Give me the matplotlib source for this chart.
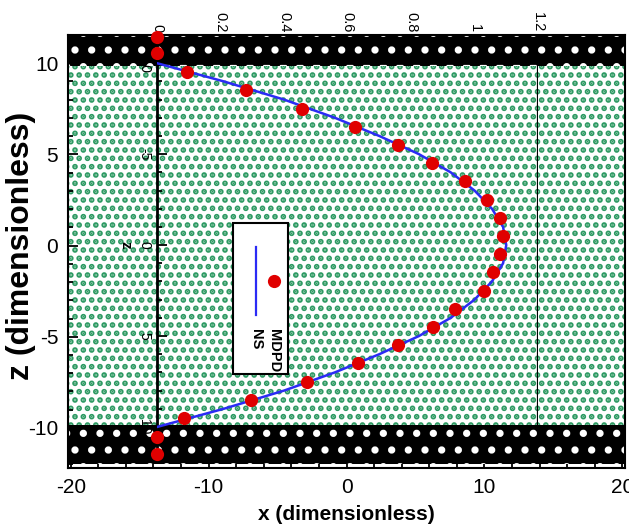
import matplotlib
matplotlib.use("Agg")
import matplotlib.pyplot as plt
from matplotlib.patches import Rectangle
from matplotlib.ticker import MultipleLocator

# MDPD velocity samples (inner plot is rotated: z runs down, u runs right)
z_mdpd = [-11.45, -10.55, -9.5, -8.5, -7.5, -6.5, -5.5, -4.5, -3.5, -2.5, -1.5, -0.5,
          0.5, 1.5, 2.5, 3.5, 4.5, 5.5, 6.5, 7.5, 8.5, 9.5, 10.55, 11.5]
u_mdpd = [0.0, 0.0, 0.095, 0.28, 0.457, 0.624, 0.759, 0.866, 0.970, 1.039, 1.080, 1.090,
          1.080, 1.058, 1.030, 0.939, 0.869, 0.759, 0.633, 0.473, 0.296, 0.085, 0.0, 0.0]

# Navier-Stokes profile
z_ns = [-10, -9, -8, -7, -6, -5, -4, -3, -2, -1, 0, 1, 2, 3, 4, 5, 6, 7, 8, 9, 10]
u_ns = [0.0, 0.21, 0.40, 0.56, 0.70, 0.825, 0.925, 1.00, 1.055, 1.09, 1.10,
        1.09, 1.055, 1.00, 0.925, 0.825, 0.70, 0.56, 0.40, 0.21, 0.0]

u_ticks = [0, 0.2, 0.4, 0.6, 0.8, 1.0, 1.2]
u_ticklabels = ["0", "0.2", "0.4", "0.6", "0.8", "1", "1.2"]
z_ticks = [-10, -5, 0, 5, 10]

plt.rcParams["font.family"] = ["Liberation Sans", "DejaVu Sans"]
plt.rcParams["axes.unicode_minus"] = False
plt.rcParams["hatch.linewidth"] = 2.8

fig = plt.figure(figsize=(6.29, 5.29), dpi=100)
W, H = 629, 529

# main axes: particle snapshot (fluid dots + wall particles as hatch texture)
ax = fig.add_axes([68 / W, 1 - 468 / H, (625 - 68) / W, (468 - 35) / H])
ax.set_xlim(-20.2, 20.2)
ax.set_ylim(-12.2, 11.55)

fluid = Rectangle((-20.2, -10), 40.4, 20, facecolor="white", edgecolor="#2e9a63",
                  linewidth=0, hatch="..", zorder=1)
ax.add_patch(fluid)
for y0, h in [(9.85, 1.75), (-12.0, 2.15)]:
    wall = Rectangle((-20.2, y0), 40.4, h, facecolor="black", edgecolor="white",
                     linewidth=0, hatch=".", zorder=2)
    ax.add_patch(wall)

ax.xaxis.set_major_locator(MultipleLocator(10))
ax.xaxis.set_minor_locator(MultipleLocator(2))
ax.yaxis.set_major_locator(MultipleLocator(5))
ax.yaxis.set_minor_locator(MultipleLocator(1))
ax.tick_params(which="both", direction="in", width=1.3, pad=7, labelsize=15)
ax.tick_params(which="major", length=7)
ax.tick_params(which="minor", length=3.5)
for sp in ax.spines.values():
    sp.set_linewidth(1.5)

ax.set_xlabel("x (dimensionless)", fontsize=15, fontweight="bold")
ax.xaxis.set_label_coords(0.5, -0.085)
ax.set_ylabel("z (dimensionless)", fontsize=23, fontweight="bold")
ax.yaxis.set_label_coords(-0.058, 0.513)

# inner axes: rotated velocity profile
ax2 = fig.add_axes([157 / W, 1 - 455 / H, (538 - 157) / W, (455 - 35) / H])
ax2.patch.set_visible(False)
ax2.set_xlim(0, 1.2)
ax2.set_ylim(11.54, -11.55)
for side in ["top", "right", "bottom"]:
    ax2.spines[side].set_visible(False)
ax2.spines["left"].set_linewidth(2)

ax2.hlines([-10, 10], 0, 1.2, color="black", linewidth=2, zorder=3)
ax2.vlines(1.2, -10, 10, color="black", linewidth=1.6, zorder=3)

ax2.plot(u_ns, z_ns, color="#2b2bf5", linewidth=1.8, zorder=4)
ax2.plot(u_mdpd, z_mdpd, "o", color="#e00000", markersize=9.5, markeredgewidth=0,
         zorder=5, clip_on=False)

ax2.xaxis.tick_top()
ax2.set_xticks(u_ticks)
ax2.set_xticklabels(u_ticklabels, rotation=-90, fontsize=10.5)
ax2.tick_params(axis="x", which="both", direction="in", length=0, pad=2)
ax2.set_yticks(z_ticks)
ax2.set_yticklabels([str(t) for t in z_ticks], rotation=-90, va="center", fontsize=10)
ax2.yaxis.set_minor_locator(MultipleLocator(1))
ax2.tick_params(axis="y", which="both", direction="in", width=1.3, pad=4)
ax2.tick_params(axis="y", which="major", length=7)
ax2.tick_params(axis="y", which="minor", length=3.5)
ax2.set_ylabel("z", rotation=-90, fontsize=11, fontweight="bold", va="center")
ax2.yaxis.set_label_coords(-0.082, 0.5)

# hand-made rotated legend
ax2.add_patch(Rectangle((0.1995, 0.193), 0.1445, 0.359, transform=ax2.transAxes,
                        facecolor="white", edgecolor="black", linewidth=1.5, zorder=6))
ax2.plot([0.26, 0.26], [0.333, 0.495], transform=ax2.transAxes, color="#2b2bf5",
         linewidth=1.6, zorder=7)
ax2.plot([0.307], [0.414], "o", transform=ax2.transAxes, color="#e00000",
         markersize=9.5, markeredgewidth=0, zorder=7)
ax2.text(0.307, 0.30, "MDPD", transform=ax2.transAxes, rotation=-90, ha="center",
         va="top", fontsize=10.5, fontweight="bold", zorder=7)
ax2.text(0.26, 0.30, "NS", transform=ax2.transAxes, rotation=-90, ha="center",
         va="top", fontsize=10.5, fontweight="bold", zorder=7)

fig.savefig("out.png", dpi=100)
